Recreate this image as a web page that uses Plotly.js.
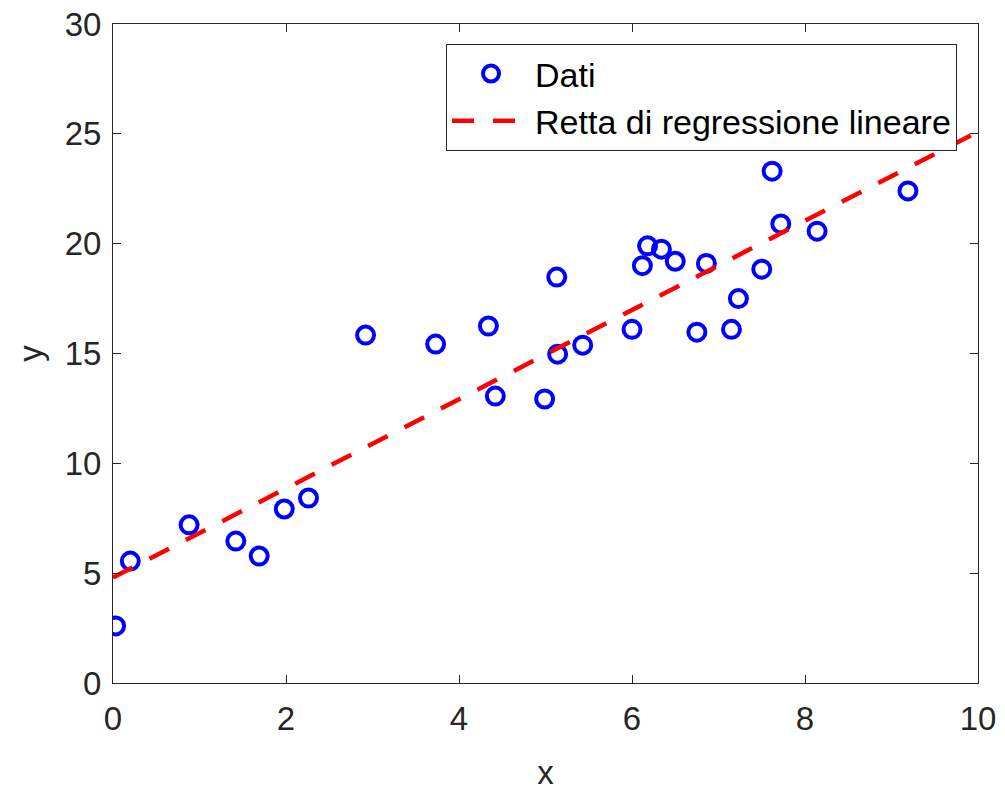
<!DOCTYPE html>
<html>
<head>
<meta charset="utf-8">
<script src="https://cdn.plot.ly/plotly-3.0.1.min.js"></script>
<style>html,body{margin:0;padding:0;background:#fff;}#chart{width:1005px;height:791px;}</style>
</head>
<body>
<div id="chart"></div>
<script>
const dataX = [0.03, 0.2, 0.88, 1.42, 1.69, 1.98, 2.26, 2.92, 3.73, 4.34, 4.42, 4.99, 5.13, 5.14, 5.43, 6.0, 6.12, 6.18, 6.34, 6.5, 6.75, 6.86, 7.15, 7.23, 7.5, 7.62, 7.72, 8.14, 9.19, 9.62];
const dataY = [2.6, 5.55, 7.2, 6.46, 5.78, 7.92, 8.42, 15.84, 15.43, 16.25, 13.06, 12.93, 18.48, 14.97, 15.38, 16.1, 19.0, 19.9, 19.75, 19.2, 15.97, 19.1, 16.1, 17.5, 18.84, 23.3, 20.9, 20.57, 22.4, 24.9];
const lineX = [0, 10];
const lineY = [4.8, 25.1];
const xTicks = [0, 2, 4, 6, 8, 10];
const yTicks = [0, 5, 10, 15, 20, 25, 30];

const font = {family: 'Liberation Sans, Arial, sans-serif', size: 33, color: '#262626'};
const legFont = {family: font.family, size: 34, color: '#000'};

const traces = [
  {x: dataX, y: dataY, mode: 'markers', type: 'scatter', name: 'Dati',
   marker: {symbol: 'circle-open', size: 17, color: '#0000ff', line: {width: 4, color: '#0000ff'}}},
  {x: lineX, y: lineY, mode: 'lines', type: 'scatter', name: 'Retta di regressione lineare',
   line: {color: '#ff0000', width: 4.5, dash: '22px,19px'}}
];

const axisCommon = {
  showgrid: false, zeroline: false, showline: true, linecolor: '#262626', linewidth: 1,
  mirror: 'ticks', ticks: 'inside', ticklen: 8, tickwidth: 1, tickcolor: '#262626',
  tickfont: font
};

const layout = {
  width: 1005, height: 791,
  margin: {l: 113, r: 27, t: 24, b: 108},
  paper_bgcolor: '#fff', plot_bgcolor: '#fff',
  font: font,
  showlegend: true,
  xaxis: Object.assign({}, axisCommon, {range: [0, 10], tickvals: xTicks, ticktext: xTicks.map(String),
    ticklabelstandoff: 6, title: {text: 'x', font: font, standoff: 26}}),
  yaxis: Object.assign({}, axisCommon, {range: [0, 30], tickvals: yTicks, ticktext: yTicks.map(String),
    ticklabelstandoff: 4, title: {text: 'y', font: font, standoff: 12}}),
  legend: {x: 0.385, y: 0.9697, xanchor: 'left', yanchor: 'top', bordercolor: '#262626', borderwidth: 1,
    bgcolor: '#fff', font: legFont, tracegroupgap: 0, itemwidth: 78}
};

Plotly.newPlot('chart', traces, layout, {displayModeBar: false, staticPlot: true});
</script>
</body>
</html>
